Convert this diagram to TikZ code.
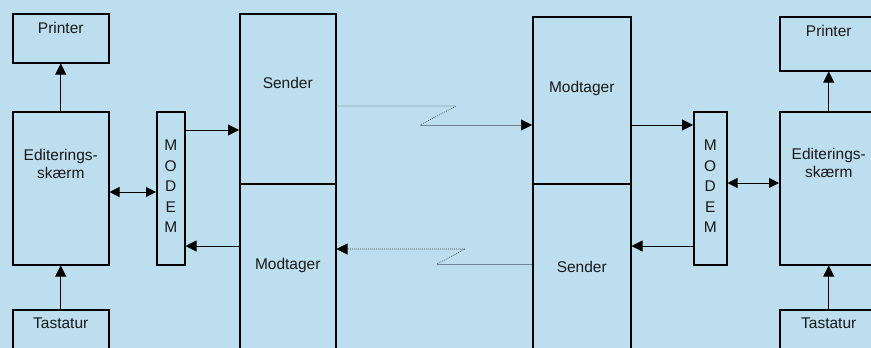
\documentclass[tikz,border=0pt]{standalone}
\usepackage{fontspec}
\setmainfont{Liberation Sans}
\usetikzlibrary{arrows.meta,positioning}
\definecolor{paper}{RGB}{189,222,238}
\definecolor{linkgray}{RGB}{112,132,148}

\tikzset{
  box/.style={draw, line width=1.5pt, anchor=north west, inner sep=0pt},
  lbl/.style={inner sep=0pt, text=black!90, font=\fontsize{15.5}{18}\selectfont, align=center},
  arr/.style={line width=1pt, -{Triangle[length=11pt,width=11pt]}},
  dbl/.style={line width=1pt, {Triangle[length=10pt,width=10pt]}-{Triangle[length=10pt,width=10pt]}},
  link/.style={line width=0.7pt, black!75, dash pattern=on 0.8pt off 1.2pt},
  linksolid/.style={line width=0.6pt, linkgray},
  tip/.style={-{Triangle[length=11pt,width=11pt,black]}}
}

\begin{document}
\begin{tikzpicture}[x=1pt,y=-1pt]
	\useasboundingbox (0,0) rectangle (871,348);
	\fill[paper] (0,0) rectangle (871,348);
	\clip (0,0) rectangle (871,348);
	
	%%%%% left station %%%%%
	\node[box, minimum width=96pt, minimum height=49pt] (prnL) at (12,13) {};
	\node[box, minimum width=96pt, minimum height=153pt] (edL) at (12,111) {};
	\node[box, minimum width=96pt, minimum height=60pt] (tasL) at (12,309) {};
	\node[box, minimum width=28pt, minimum height=153pt] (modL) at (156,111) {};
	\node[box, minimum width=96pt, minimum height=170pt] (sendL) at (239,13) {};
	\node[box, minimum width=96pt, minimum height=180pt] (recvL) at (239,183) {};
	
	\node[lbl, anchor=base] at ([yshift=-20pt]prnL.north) {Printer};
	\node[lbl, anchor=north] at ([yshift=-38pt]edL.north) {Editerings-\\skærm};
	\node[lbl, anchor=base] at ([yshift=-19pt]tasL.north) {Tastatur};
	\node[lbl, anchor=north, font=\fontsize{15.5}{20.5}\selectfont] at ([yshift=-29pt]modL.north) {M\\O\\D\\E\\M};
	\node[lbl, anchor=base] at ([yshift=-75pt]sendL.north) {Sender};
	\node[lbl, anchor=base] at ([yshift=-86pt]recvL.north) {Modtager};
	
	%%%%% right station %%%%%
	\node[box, minimum width=98pt, minimum height=167pt] (recvR) at (532,16) {};
	\node[box, minimum width=98pt, minimum height=180pt] (sendR) at (532,183) {};
	\node[box, minimum width=33pt, minimum height=153pt] (modR) at (693,111) {};
	\node[box, minimum width=98pt, minimum height=54pt] (prnR) at (779,16) {};
	\node[box, minimum width=98pt, minimum height=153pt] (edR) at (779,111) {};
	\node[box, minimum width=98pt, minimum height=60pt] (tasR) at (779,309) {};
	
	\node[lbl, anchor=base] at ([yshift=-76pt]recvR.north) {Modtager};
	\node[lbl, anchor=base] at ([yshift=-89pt]sendR.north) {Sender};
	\node[lbl, anchor=north, font=\fontsize{15.5}{20.5}\selectfont] at ([yshift=-29pt]modR.north) {M\\O\\D\\E\\M};
	\node[lbl, anchor=base] at ([yshift=-20pt]prnR.north) {Printer};
	\node[lbl, anchor=north] at ([yshift=-37pt]edR.north) {Editerings-\\skærm};
	\node[lbl, anchor=base] at ([yshift=-19pt]tasR.north) {Tastatur};
	
	% rows for the horizontal arrows
	\coordinate (rowA) at (0,130);
	\coordinate (rowB) at (0,246);
	\coordinate (rowC) at (0,125);
	\coordinate (rowD) at (0,192);
	\coordinate (rowE) at (0,183);
	
	\draw[arr] (edL) -- (prnL);
	\draw[arr] (tasL) -- (edL);
	\draw[dbl] (edL.east |- rowD) -- (modL.west |- rowD);
	\draw[arr] (modL.east |- rowA) -- (sendL.west |- rowA);
	\draw[arr] (recvL.west |- rowB) -- (modL.east |- rowB);
	
	\draw[arr] (edR) -- (prnR);
	\draw[arr] (tasR) -- (edR);
	\draw[dbl] (modR.east |- rowE) -- (edR.west |- rowE);
	\draw[arr] (recvR.east |- rowC) -- (modR.west |- rowC);
	\draw[arr] (modR.west |- rowB) -- (sendR.east |- rowB);
	
	%%%%% line between the stations %%%%%
	\coordinate (kneeA1) at (456,106);
	\coordinate (kneeA2) at (420,125);
	\coordinate (kneeB1) at (437,264);
	\coordinate (kneeB2) at (465,249);
	
	\draw[link] (sendL.east |- kneeA1) -- (kneeA1) -- (kneeA2);
	\draw[linksolid, tip] (kneeA2) -- (recvR.west |- kneeA2);
	\draw[linksolid] (sendR.west |- kneeB1) -- (kneeB1);
	\draw[link, tip] (kneeB1) -- (kneeB2) -- (recvL.east |- kneeB2);
	
\end{tikzpicture}
\end{document}
